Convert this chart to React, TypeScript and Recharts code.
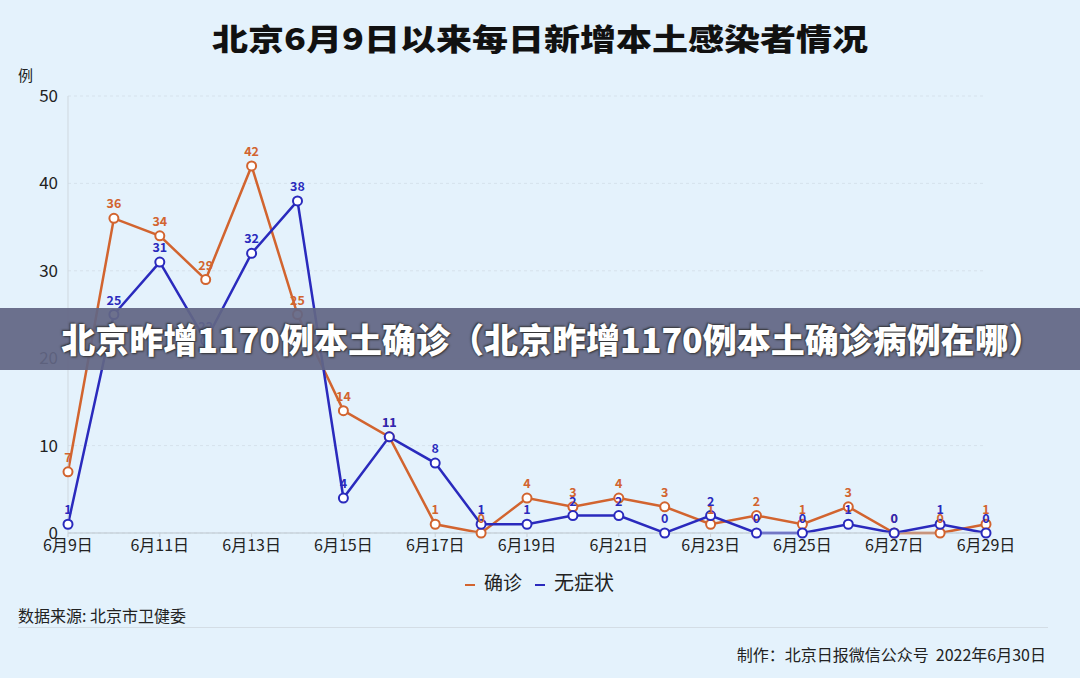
import React from 'react';
import { LineChart, Line, XAxis, YAxis, CartesianGrid, LabelList } from 'recharts';

const dates = ['6月9日','6月10日','6月11日','6月12日','6月13日','6月14日','6月15日','6月16日','6月17日','6月18日','6月19日','6月20日','6月21日','6月22日','6月23日','6月24日','6月25日','6月26日','6月27日','6月28日','6月29日'];
const confirmed = [7,36,34,29,42,25,14,11,1,0,4,3,4,3,1,2,1,3,0,0,1];
const asymptomatic = [1,25,31,22,32,38,4,11,8,1,1,2,2,0,2,0,0,1,0,1,0];
const yTicks = [0,10,20,30,40,50];

const data = dates.map((d, i) => ({ date: d, confirmed: confirmed[i], asymptomatic: asymptomatic[i] }));

const ORANGE = '#d2642f';
const BLUE = '#2a2abd';
const FONT = '"Noto Sans CJK SC", "Noto Sans", sans-serif';

const Dash = ({ color }: { color: string }) => (
  <span style={{ display: 'inline-block', width: 10, height: 2, background: color, verticalAlign: 'middle', marginRight: 9 }} />
);

export default function App() {
  return (
    <div style={{ position: 'absolute', left: 0, top: 0, width: 1080, height: 678, background: '#e4f2fc', fontFamily: FONT, overflow: 'hidden' }}>
      <div style={{ position: 'absolute', left: 0, top: 14, width: 1080, textAlign: 'center', fontSize: 30, fontWeight: 900, color: '#111', lineHeight: '46px', transform: 'scaleX(1.2)', transformOrigin: '540px 0' }}>
        北京6月9日以来每日新增本土感染者情况
      </div>
      <div style={{ position: 'absolute', left: 18, top: 64, fontSize: 15, color: '#222', lineHeight: '22px' }}>例</div>
      <div style={{ position: 'absolute', left: 0, top: 0 }}>
        <LineChart width={1080} height={678} data={data} margin={{ top: 96, right: 94, bottom: 115, left: 28 }}>
          <CartesianGrid vertical={false} stroke="#d6e2ec" strokeDasharray="3 3" />
          <XAxis dataKey="date" interval={1} height={30} tick={{ fontSize: 16, fill: '#222', fontFamily: FONT }} tickLine={{ stroke: '#c8d0d6' }} axisLine={{ stroke: '#bcc5cc' }} tickSize={4} tickMargin={3} />
          <YAxis domain={[0, 50]} ticks={yTicks} width={40} tick={{ fontSize: 17, fill: '#222', fontFamily: FONT }} tickLine={false} axisLine={{ stroke: '#cfd8df' }} tickMargin={4} />
          <Line type="linear" dataKey="confirmed" stroke={ORANGE} strokeWidth={2.5} isAnimationActive={false} dot={{ r: 4.5, fill: '#fff', stroke: ORANGE, strokeWidth: 2 }}>
            <LabelList dataKey="confirmed" position="top" offset={10} style={{ fill: ORANGE, fontSize: 12.5, fontWeight: 600, fontFamily: FONT }} />
          </Line>
          <Line type="linear" dataKey="asymptomatic" stroke={BLUE} strokeWidth={2.5} isAnimationActive={false} dot={{ r: 4.5, fill: '#fff', stroke: BLUE, strokeWidth: 2 }}>
            <LabelList dataKey="asymptomatic" position="top" offset={10} style={{ fill: BLUE, fontSize: 12.5, fontWeight: 600, fontFamily: FONT }} />
          </Line>
        </LineChart>
      </div>
      <div style={{ position: 'absolute', left: 465, top: 568, fontSize: 19, color: '#222', lineHeight: '28px', whiteSpace: 'nowrap' }}>
        <Dash color={ORANGE} />确诊
        <span style={{ display: 'inline-block', width: 13 }} />
        <Dash color={BLUE} /><span style={{ fontSize: 20 }}>无症状</span>
      </div>
      <div style={{ position: 'absolute', left: 18, top: 604, fontSize: 16, color: '#222', lineHeight: '22px' }}>数据来源: 北京市卫健委</div>
      <div style={{ position: 'absolute', left: 18, top: 627, width: 1030, height: 1, background: '#d3dde5' }} />
      <div style={{ position: 'absolute', right: 34, top: 643, fontSize: 16, color: '#222', lineHeight: '22px', whiteSpace: 'nowrap' }}>制作：北京日报微信公众号&nbsp;&nbsp;2022年6月30日</div>
      <div style={{ position: 'absolute', left: 0, top: 308, width: 1080, height: 62, background: 'rgba(98,102,132,0.93)' }} />
      <div style={{ position: 'absolute', left: 12, top: 308, width: 1080, height: 62, textAlign: 'center', lineHeight: '62px', fontSize: 34, fontWeight: 900, color: '#fff', whiteSpace: 'nowrap', textShadow: '1px 1px 2px #333, -1px -1px 2px #333' }}>
        北京昨增1170例本土确诊（北京昨增1170例本土确诊病例在哪）
      </div>
    </div>
  );
}
